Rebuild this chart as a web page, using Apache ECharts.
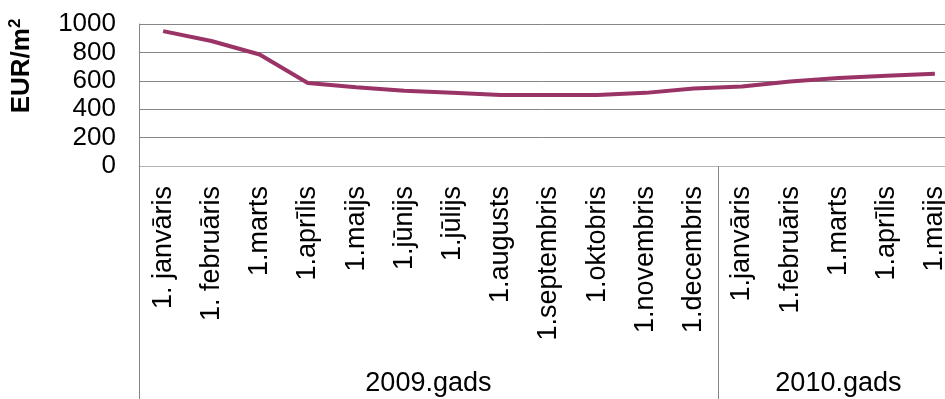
<!DOCTYPE html>
<html>
<head>
<meta charset="utf-8">
<script src="https://cdn.jsdelivr.net/npm/echarts@6/dist/echarts.min.js"></script>
<style>
  html, body { margin: 0; padding: 0; background: #fff; }
  #chart { width: 945px; height: 399px; }
</style>
</head>
<body>
<div id="chart"></div>
<script>
// Monthly price, EUR per square metre
const months = [
  '1. janvāris', '1. februāris', '1.marts', '1.aprīlis', '1.maijs', '1.jūnijs',
  '1.jūlijs', '1.augusts', '1.septembris', '1.oktobris', '1.novembris', '1.decembris',
  '1.janvāris', '1.februāris', '1.marts', '1.aprīlis', '1.maijs'
];
const prices = [950, 880, 785, 585, 555, 530, 515, 500, 500, 500, 515, 545, 560, 595, 620, 635, 650];

// Year groups: label and number of months in each
const years = ['2009.gads', '2010.gads'];
const yearSpans = [12, 5];

const yTicks = { min: 0, max: 1000, interval: 200 };

// Group axis runs on half-band steps so group centres and boundaries fall on points
const halfSteps = [];
const boundarySteps = [0];
let acc = 0;
yearSpans.forEach(function (span) { acc += span * 2; boundarySteps.push(acc); });
for (let i = 0; i <= acc; i++) halfSteps.push('');
yearSpans.reduce(function (start, span, gi) {
  halfSteps[start + span] = years[gi];
  return start + span * 2;
}, 0);

const font = 'Liberation Sans, Arial, Helvetica, sans-serif';
const chart = echarts.init(document.getElementById('chart'));
chart.setOption({
  animation: false,
  grid: { left: 139, top: 24, height: 142, width: 820, outerBoundsMode: 'none', containLabel: false },
  xAxis: [
    {
      type: 'category',
      data: months,
      boundaryGap: true,
      axisLine: { show: true, lineStyle: { color: '#b4b4b4', width: 1 } },
      axisTick: { show: false },
      axisLabel: {
        interval: 0, rotate: 90, margin: 20,
        fontFamily: font, fontSize: 27, color: '#000'
      },
      splitLine: { show: false }
    },
    {
      type: 'category',
      data: halfSteps,
      boundaryGap: false,
      position: 'bottom',
      offset: 233,
      axisLine: { show: false },
      axisTick: {
        show: true, inside: true, length: 233,
        interval: function (i) { return boundarySteps.indexOf(i) !== -1; },
        lineStyle: { color: '#868686', width: 1 }
      },
      axisLabel: {
        interval: 0, inside: true, margin: 2,
        fontFamily: font, fontSize: 27, color: '#000'
      },
      splitLine: { show: false }
    }
  ],
  yAxis: {
    type: 'value',
    min: yTicks.min, max: yTicks.max, interval: yTicks.interval,
    name: '{a|EUR/m}{b|2}',
    nameLocation: 'middle',
    nameGap: 102,
    nameTextStyle: {
      padding: [0, 0, 0, 58],
      rich: {
        a: { fontFamily: font, fontSize: 26, fontWeight: 'bold', color: '#000', lineHeight: 30 },
        b: { fontFamily: font, fontSize: 17, fontWeight: 'bold', color: '#000', verticalAlign: 'top', lineHeight: 30 }
      }
    },
    axisLine: { show: true, lineStyle: { color: '#868686', width: 1 } },
    axisTick: { show: false },
    axisLabel: {
      margin: 23, fontFamily: font, fontSize: 26, color: '#000',
      formatter: function (v) { return String(v); }
    },
    splitLine: { show: true, lineStyle: { color: '#868686', width: 1 } }
  },
  series: [{
    type: 'line',
    data: prices,
    xAxisIndex: 0,
    symbol: 'none',
    lineStyle: { color: '#9a3366', width: 4 },
    z: 5
  }]
});
</script>
</body>
</html>
